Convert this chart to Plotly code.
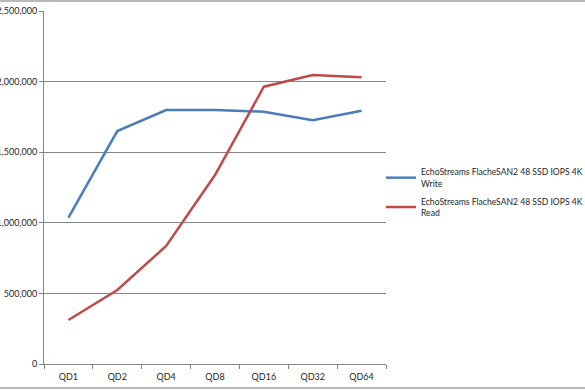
import plotly.graph_objects as go

categories = ["QD1", "QD2", "QD4", "QD8", "QD16", "QD32", "QD64"]
write_iops = [1036000, 1650000, 1799000, 1798000, 1787000, 1726000, 1794000]
read_iops = [312000, 524000, 836000, 1338000, 1964000, 2047000, 2030000]
series_names = [
    "EchoStreams FlacheSAN2 48 SSD IOPS 4K<br>Write",
    "EchoStreams FlacheSAN2 48 SSD IOPS 4K<br>Read",
]
y_ticks = [0, 500000, 1000000, 1500000, 2000000, 2500000]

W, H = 585, 390
L, R, T, B = 44, 199, 11, 26
pw, ph = W - L - R, H - T - B

fig = go.Figure()
fig.add_trace(go.Scatter(x=categories, y=write_iops, mode="lines", name=series_names[0],
                         legendgroup="write",
                         line=dict(color="#4a7ebb", width=2.5)))
fig.add_trace(go.Scatter(x=categories, y=read_iops, mode="lines", name=series_names[1],
                         legendgroup="read",
                         line=dict(color="#be4b48", width=2.5)))

font = dict(family="Lato, Open Sans, sans-serif", size=9, color="#262626")

fig.update_layout(
    width=W, height=H,
    margin=dict(l=L, r=R, t=T, b=B, autoexpand=False),
    paper_bgcolor="white", plot_bgcolor="white",
    font=font,
    showlegend=True,
    legend=dict(x=(381 - L) / pw, y=1 - (160 - T) / ph, xanchor="left", yanchor="top",
                font=dict(family="Lato, Open Sans, sans-serif", size=8.6, color="#262626"),
                itemwidth=30, tracegroupgap=4,
                bgcolor="rgba(0,0,0,0)"),
    xaxis=dict(type="category", range=[-0.5, 6.5], showgrid=False,
               showline=True, linecolor="#868686", linewidth=1,
               ticks="outside", ticklen=4, tickcolor="#868686",
               tickson="boundaries", automargin=False, tickfont=font,
               ticklabelstandoff=4),
    yaxis=dict(range=[0, 2500000], tickvals=y_ticks, tickformat=",d",
               showgrid=True, gridcolor="#868686", gridwidth=1,
               showline=True, linecolor="#868686", linewidth=1,
               ticks="outside", ticklen=4, tickcolor="#868686",
               zeroline=False, automargin=False, tickfont=font),
)

# outer chart frame (top and bottom edges visible)
fig.add_shape(type="line", xref="paper", yref="paper",
              x0=-L / pw, x1=(W - L) / pw, y0=1 + (T - 1) / ph, y1=1 + (T - 1) / ph,
              line=dict(color="#a0a0a0", width=1.5))
fig.add_shape(type="line", xref="paper", yref="paper",
              x0=-L / pw, x1=(W - L) / pw, y0=-(B - 2) / ph, y1=-(B - 2) / ph,
              line=dict(color="#a0a0a0", width=1.5))

fig.write_html("out.html", config={"displayModeBar": False},
               post_script="document.body.style.margin='0';document.body.style.overflow='hidden';")
